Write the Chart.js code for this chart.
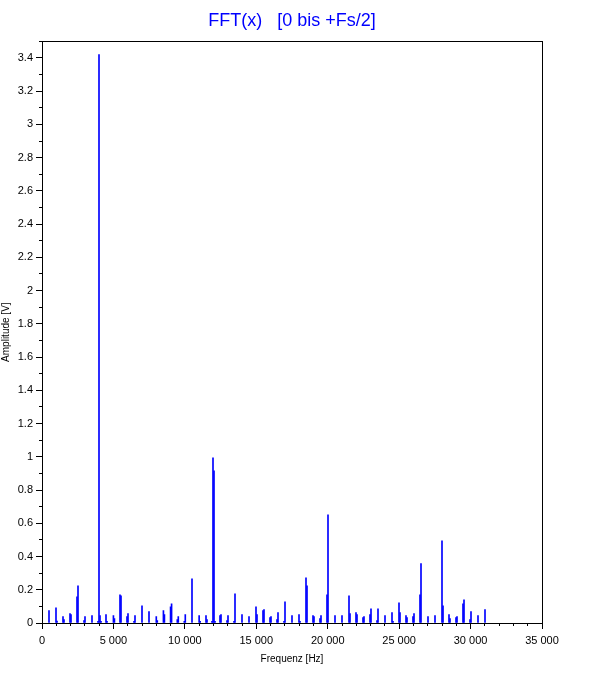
<!DOCTYPE html>
<html><head><meta charset="utf-8">
<script src="https://cdn.jsdelivr.net/npm/chart.js@4/dist/chart.umd.min.js"></script>
<style>html,body{margin:0;padding:0;background:#fff}#wrap{width:612px;height:682px;position:relative}</style>
</head><body><div id="wrap"><canvas id="c"></canvas></div>
<script>
const frequencies = [490,980,1050,1470,1540,1960,2030,2450,2520,2940,3010,3500,3920,3990,4060,4130,4480,4550,5000,5070,5460,5530,5950,6020,6440,6510,7000,7490,8000,8070,8500,8570,9000,9070,9470,9540,9960,10030,10500,11000,11070,11480,11550,11900,11970,12040,12110,12460,12530,12950,13020,13440,13510,14000,14490,14980,15050,15470,15540,15960,16030,16450,16520,16940,17010,17500,17990,18060,18480,18550,18970,19040,19460,19530,19950,20020,20510,21000,21490,21560,21980,22050,22470,22540,22960,23030,23450,23520,24010,24500,24570,24990,25060,25480,25550,25970,26040,26460,26530,27020,27510,28000,28070,28490,28560,28980,29050,29470,29540,29960,30030,30520,31010];
const amplitudes = [0.074,0.092,0.012,0.038,0.020,0.056,0.050,0.158,0.224,0.014,0.038,0.044,0.010,3.42,0.044,0.010,0.050,0.010,0.044,0.026,0.170,0.164,0.038,0.056,0.010,0.044,0.104,0.068,0.038,0.014,0.074,0.050,0.098,0.116,0.020,0.038,0.010,0.050,0.266,0.044,0.010,0.044,0.020,0.010,0.994,0.916,0.010,0.044,0.050,0.014,0.044,0.010,0.176,0.050,0.038,0.098,0.050,0.074,0.080,0.032,0.038,0.020,0.062,0.010,0.128,0.044,0.050,0.010,0.272,0.224,0.044,0.038,0.026,0.044,0.170,0.651,0.044,0.044,0.164,0.056,0.062,0.050,0.032,0.038,0.050,0.086,0.014,0.086,0.044,0.062,0.010,0.122,0.062,0.044,0.032,0.038,0.056,0.170,0.357,0.038,0.044,0.495,0.104,0.050,0.026,0.032,0.038,0.116,0.140,0.020,0.068,0.044,0.080];
const xRange = [0, 35000];
const yRange = [0, 3.5];
const xMajorStep = 5000, xMinorStep = 1000;
const yMajorStep = 0.2, yMinorStep = 0.1;
const titleText = 'FFT(x)   [0 bis +Fs/2]';
const xTitle = 'Frequenz [Hz]';
const yTitle = 'Amplitude [V]';

const FONT = "'Liberation Sans', Arial, Helvetica, sans-serif";
const fmtX = v => String(Math.round(v)).replace(/\B(?=(\d{3})+(?!\d))/g, ' ');
const fmtY = v => String(Number(v.toFixed(1)));

const boxPlugin = {
  id: 'box',
  afterDatasetsDraw(chart) {
    const {ctx, chartArea: a} = chart;
    ctx.save();
    ctx.strokeStyle = '#000';
    ctx.lineWidth = 1;
    ctx.strokeRect(Math.round(a.left) + 0.5, Math.round(a.top) + 0.5,
      Math.round(a.right) - Math.round(a.left), Math.round(a.bottom) - Math.round(a.top));
    ctx.restore();
  }
};

new Chart(document.getElementById('c'), {
  type: 'bar',
  data: {
    datasets: [{
      data: frequencies.map((f, i) => ({x: f, y: amplitudes[i]})),
      backgroundColor: '#0000ff',
      borderWidth: 0,
      barThickness: 1
    }]
  },
  options: {
    responsive: true,
    maintainAspectRatio: false,
    animation: false,
    devicePixelRatio: 1,
    layout: {padding: {left: 0, right: 70, top: 0, bottom: 0}},
    plugins: {
      legend: {display: false},
      tooltip: {enabled: false},
      title: {
        display: true, text: titleText, color: '#0000ff', fullSize: false,
        font: {family: FONT, size: 18, weight: 'normal', lineHeight: 1.2},
        padding: {top: 10, bottom: 9.7}
      }
    },
    scales: {
      x: {
        type: 'linear', position: 'bottom', weight: 1, offset: false,
        min: xRange[0], max: xRange[1],
        ticks: {stepSize: xMajorStep, includeBounds: false, autoSkip: false, maxRotation: 0,
          padding: 5, color: '#000', font: {family: FONT, size: 11}, callback: v => fmtX(v)},
        grid: {drawOnChartArea: false, drawTicks: true, tickLength: 6, tickColor: '#000', offset: false},
        border: {display: true, color: '#000'},
        title: {display: true, text: xTitle, color: '#000', font: {family: FONT, size: 10, lineHeight: 1.2},
          padding: {top: 0, bottom: 17}},
        afterFit(s) { s.height = 59; }
      },
      xMinor: {
        type: 'linear', position: 'bottom', weight: 0, offset: false,
        min: xRange[0], max: xRange[1],
        ticks: {stepSize: xMinorStep, includeBounds: false, display: false, autoSkip: false},
        grid: {drawOnChartArea: false, drawTicks: true, tickLength: 3, tickColor: '#000', offset: false},
        border: {display: false},
        afterFit(s) { s.height = 0; }
      },
      y: {
        type: 'linear', position: 'left', weight: 1,
        min: yRange[0], max: yRange[1],
        ticks: {stepSize: yMajorStep, includeBounds: false, autoSkip: false,
          padding: 3, color: '#000', font: {family: FONT, size: 11}, callback: v => fmtY(v)},
        grid: {drawOnChartArea: false, drawTicks: true, tickLength: 6, tickColor: '#000'},
        border: {display: true, color: '#000'},
        title: {display: true, text: yTitle, color: '#000', font: {family: FONT, size: 10, lineHeight: 1.2},
          padding: {top: 0, bottom: 0}},
        afterFit(s) { s.width = 42; }
      },
      yMinor: {
        type: 'linear', position: 'left', weight: 0,
        min: yRange[0], max: yRange[1],
        ticks: {stepSize: yMinorStep, includeBounds: false, display: false, autoSkip: false},
        grid: {drawOnChartArea: false, drawTicks: true, tickLength: 3, tickColor: '#000'},
        border: {display: false},
        afterFit(s) { s.width = 0; }
      }
    }
  },
  plugins: [boxPlugin]
});
</script>
</body></html>
